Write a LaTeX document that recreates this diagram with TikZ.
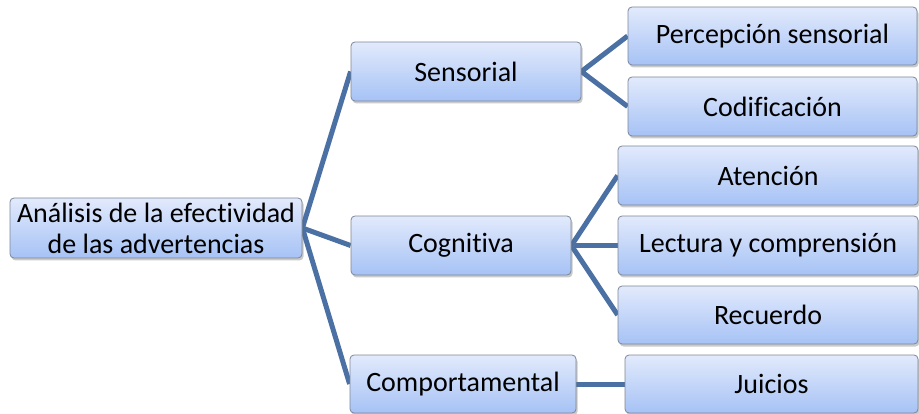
\documentclass[tikz,border=0pt]{standalone}
\usepackage{fontspec}
\setmainfont[Ligatures={NoCommon}]{Carlito}
\usetikzlibrary{shadows,backgrounds}
\definecolor{lineblue}{RGB}{74,112,164}
\definecolor{boxtop}{RGB}{226,234,252}
\definecolor{boxbot}{RGB}{166,194,245}
\definecolor{boxborder}{RGB}{125,135,150}
\tikzset{
  box/.style={draw=boxborder, line width=0.8pt, rounded corners=4pt,
    top color=boxtop, bottom color=boxbot, inner sep=0pt,
    font=\fontsize{28}{31}\selectfont, align=center,
    drop shadow={shadow xshift=1.5pt, shadow yshift=-2.5pt, opacity=0.35, fill=black!60}},
  conn/.style={draw=lineblue, line width=5pt}
}
\begin{document}
\begin{tikzpicture}[x=1pt,y=-1pt]
\useasboundingbox (0,0) rectangle (919,414);
\node[box, minimum width=292pt, minimum height=60pt] (root) at (156,228) {Análisis de la efectividad\\de las advertencias};
\node[box, minimum width=230pt, minimum height=59pt] (sens) at (466,71.5) {Sensorial};
\node[box, minimum width=289pt, minimum height=58pt] (perc) at (772.5,36) {Percepción sensorial};
\node[box, minimum width=289pt, minimum height=59pt] (codi) at (772.5,106.5) {Codificación};
\node[box, minimum width=220pt, minimum height=59pt] (cogn) at (461,245.5) {Cognitiva};
\node[box, minimum width=300pt, minimum height=59pt] (aten) at (768,175.5) {Atención};
\node[box, minimum width=300pt, minimum height=59pt] (lect) at (768,245.5) {Lectura y comprensión};
\node[box, minimum width=300pt, minimum height=58pt] (recu) at (768,315) {Recuerdo};
\node[box, minimum width=226pt, minimum height=58pt] (comp) at (463,384) {Comportamental};
\node[box, minimum width=293pt, minimum height=58pt] (juic) at (771.5,384) {Juicios};
\begin{scope}[on background layer]
\draw[conn] (sens.west) -- (root.east) -- (cogn.west);
\draw[conn] (root.east) -- (comp.west);
\draw[conn] (perc.west) -- (sens.east) -- (codi.west);
\draw[conn] (aten.west) -- (cogn.east) -- (recu.west);
\draw[conn] (cogn.east) -- (lect.west);
\draw[conn] (comp.east) -- (juic.west);
\end{scope}
\end{tikzpicture}
\end{document}
